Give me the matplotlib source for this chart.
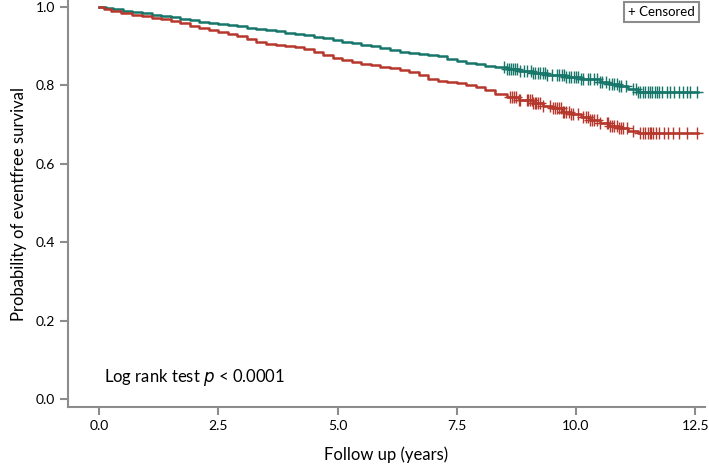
import numpy as np
import matplotlib
matplotlib.use("Agg")
import matplotlib.pyplot as plt

plt.rcParams['font.family'] = ['Lato', 'DejaVu Sans']

# step points of the two Kaplan-Meier curves (time in years, survival)
green_t = [0, 0.15, 0.3, 0.5, 0.7, 0.9, 1.1, 1.3, 1.5, 1.7, 1.9, 2.1, 2.3, 2.5,
           2.7, 2.9, 3.1, 3.3, 3.5, 3.7, 3.9, 4.1, 4.3, 4.5, 4.7, 4.9, 5.1, 5.3,
           5.5, 5.7, 5.9, 6.1, 6.3, 6.5, 6.7, 6.9, 7.1, 7.3, 7.5, 7.7, 7.9, 8.1,
           8.3, 8.55, 8.8, 9.1, 9.4, 9.8, 10.1, 10.5, 10.7, 10.9, 11.1, 11.3,
           12.55]
green_s = [1.0, 0.997, 0.993, 0.99, 0.987, 0.984, 0.98, 0.977, 0.973, 0.969,
           0.965, 0.962, 0.959, 0.956, 0.953, 0.95, 0.946, 0.943, 0.94, 0.937,
           0.934, 0.931, 0.928, 0.924, 0.919, 0.915, 0.911, 0.907, 0.903, 0.899,
           0.894, 0.889, 0.885, 0.883, 0.88, 0.877, 0.874, 0.868, 0.861, 0.856,
           0.853, 0.85, 0.846, 0.841, 0.836, 0.83, 0.826, 0.82, 0.815, 0.809,
           0.803, 0.797, 0.79, 0.783, 0.783]

red_t = [0, 0.1, 0.25, 0.45, 0.7, 0.9, 1.1, 1.3, 1.5, 1.7, 1.9, 2.1, 2.3, 2.5,
         2.7, 2.9, 3.1, 3.3, 3.5, 3.7, 3.9, 4.1, 4.3, 4.5, 4.7, 4.9, 5.1, 5.3,
         5.5, 5.7, 5.9, 6.1, 6.3, 6.5, 6.7, 6.9, 7.1, 7.3, 7.5, 7.7, 7.9, 8.1,
         8.3, 8.55, 8.8, 9.1, 9.3, 9.5, 9.7, 9.9, 10.1, 10.3, 10.5, 10.7, 10.9,
         11.1, 11.3, 12.55]
red_s = [1.0, 0.995, 0.99, 0.985, 0.98, 0.976, 0.972, 0.968, 0.963, 0.958, 0.952,
         0.946, 0.941, 0.936, 0.931, 0.926, 0.918, 0.911, 0.906, 0.903, 0.9,
         0.897, 0.893, 0.885, 0.876, 0.869, 0.865, 0.86, 0.855, 0.851, 0.847,
         0.843, 0.839, 0.834, 0.826, 0.817, 0.811, 0.808, 0.805, 0.801, 0.795,
         0.787, 0.778, 0.769, 0.763, 0.754, 0.748, 0.741, 0.733, 0.726, 0.719,
         0.711, 0.703, 0.697, 0.69, 0.684, 0.678, 0.678]

# censoring times
green_cens = [8.5, 8.55, 8.6, 8.64, 8.68, 8.72, 8.76, 8.82, 8.9, 8.98, 9.05, 9.1,
              9.15, 9.2, 9.25, 9.3, 9.35, 9.4, 9.5, 9.6, 9.65, 9.7, 9.75, 9.8,
              9.85, 9.9, 9.95, 10.0, 10.05, 10.1, 10.15, 10.25, 10.3, 10.38,
              10.45, 10.5, 10.55, 10.62, 10.7, 10.75, 10.8, 10.85, 10.9, 10.95,
              11.05, 11.2, 11.25, 11.3, 11.35, 11.4, 11.45, 11.5, 11.55, 11.6,
              11.65, 11.7, 11.75, 11.8, 11.9, 11.98, 12.05, 12.15, 12.25, 12.32,
              12.4, 12.53]
red_cens = [8.62, 8.66, 8.7, 8.75, 8.8, 8.83, 8.97, 9.0, 9.03, 9.07, 9.1, 9.14,
            9.17, 9.21, 9.24, 9.31, 9.45, 9.52, 9.56, 9.6, 9.64, 9.68, 9.72, 9.75,
            9.8, 9.85, 9.9, 9.94, 10.05, 10.15, 10.22, 10.26, 10.3, 10.34, 10.38,
            10.45, 10.5, 10.64, 10.68, 10.72, 10.76, 10.8, 10.85, 10.9, 10.94,
            10.98, 11.06, 11.2, 11.34, 11.4, 11.45, 11.5, 11.55, 11.58, 11.62,
            11.68, 11.75, 11.85, 11.92, 12.04, 12.15, 12.32, 12.53]

green_col = '#16766a'
red_col = '#b6372c'

fig = plt.figure(figsize=(7.09, 4.68), dpi=100)
ax = fig.add_axes([0.096, 0.13, 0.898, 0.87])


def surv_at(times, t_steps, s_steps):
    idx = np.searchsorted(t_steps, times, side='right') - 1
    return np.array(s_steps)[idx]


for t, s, cens, col in [(green_t, green_s, green_cens, green_col),
                        (red_t, red_s, red_cens, red_col)]:
    ax.step(t, s, where='post', color=col, lw=1.8)
    ax.plot(cens, surv_at(cens, t, s), ls='none', marker='+', ms=8, mew=1.0,
            color=col)

ax.set_xlim(-0.65, 12.7)
ax.set_ylim(-0.02, 1.017)
ax.set_xticks([0, 2.5, 5, 7.5, 10, 12.5])
ax.set_xticklabels(['0.0', '2.5', '5.0', '7.5', '10.0', '12.5'])
ax.set_yticks([0, 0.2, 0.4, 0.6, 0.8, 1.0])
ax.set_yticklabels(['0.0', '0.2', '0.4', '0.6', '0.8', '1.0'])

for side in ['top', 'right']:
    ax.spines[side].set_visible(False)
for side in ['left', 'bottom']:
    ax.spines[side].set_color('#8c8c8c')
    ax.spines[side].set_linewidth(1.5)
ax.tick_params(colors='#8c8c8c', length=6, width=1.5, labelcolor='black',
               labelsize=10)

ax.set_xlabel('Follow up (years)', fontsize=12, labelpad=10)
ax.set_ylabel('Probability of eventfree survival', fontsize=12, labelpad=6)

ax.text(0.1, 0.045, r'Log rank test $\it{p}$ < 0.0001', fontsize=12)

ax.text(0.984, 0.985, '+ Censored', transform=ax.transAxes, ha='right',
        va='top', fontsize=9.5,
        bbox=dict(boxstyle='square,pad=0.3', fc='white', ec='#8c8c8c', lw=1.5))

fig.savefig('out.png', dpi=100)
